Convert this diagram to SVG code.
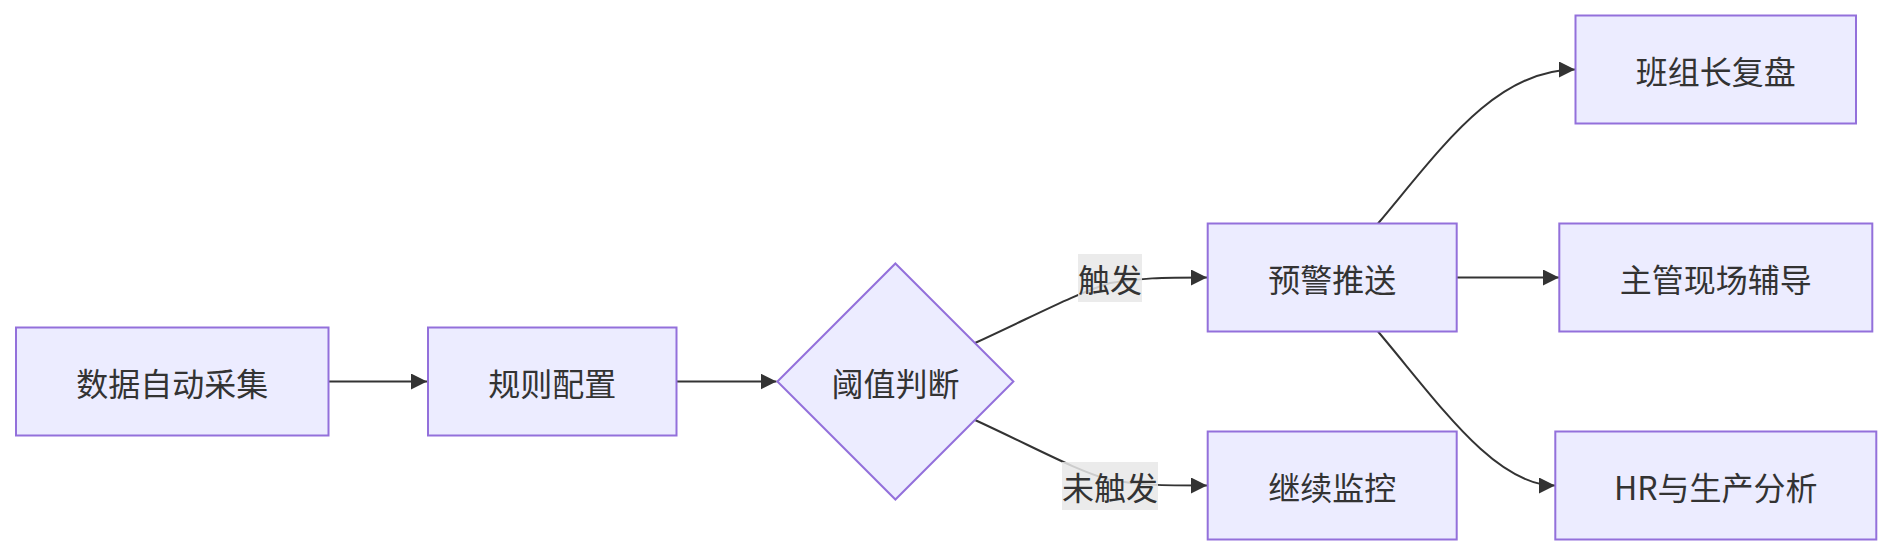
<svg xmlns="http://www.w3.org/2000/svg" width="1891" height="556" viewBox="0 0 1891 556">
<style>
.node rect, .node polygon { fill: #ECECFF; stroke: #9370DB; stroke-width: 2; }
.node text { font-family: "Noto Sans CJK SC", "Noto Sans", sans-serif; font-size: 32px; fill: #333; text-anchor: middle; dominant-baseline: central; }
.edge { fill: none; stroke: #333; stroke-width: 2; }
.lbl rect { fill: #e8e8e8; opacity: 0.85; }
.lbl text { font-family: "Noto Sans CJK SC", "Noto Sans", sans-serif; font-size: 32px; fill: #333; text-anchor: middle; dominant-baseline: central; }
</style>
<defs>
<marker id="arrow" markerUnits="userSpaceOnUse" markerWidth="16" markerHeight="16" viewBox="0 0 10 10" refX="10" refY="5" orient="auto">
<path d="M0,0 L10,5 L0,10 z" fill="#333"/>
</marker>
</defs>
<rect width="1891" height="556" fill="#ffffff"/>
<g id="connectors">
<path class="edge" d="M328.5,381.5 L427,381.5" marker-end="url(#arrow)"/>
<path class="edge" d="M676.5,381.5 L776.5,381.5" marker-end="url(#arrow)"/>
<path class="edge" d="M975,343 C1040,313 1075,294 1110,283 C1140,278 1160,277.5 1207,277.5" marker-end="url(#arrow)"/>
<path class="edge" d="M975,420 C1040,450 1075,470 1110,480 C1140,485 1160,485.5 1207,485.5" marker-end="url(#arrow)"/>
<path class="edge" d="M1378,223.5 C1440,150 1495,69.5 1575,69.5" marker-end="url(#arrow)"/>
<path class="edge" d="M1456.5,277.5 L1559,277.5" marker-end="url(#arrow)"/>
<path class="edge" d="M1378,331.5 C1440,405 1495,485.5 1555,485.5" marker-end="url(#arrow)"/>
<g class="lbl" id="label-trigger">
<rect x="1078" y="254" width="64" height="48"/>
<text x="1110" y="278">触发</text>
</g>
<g class="lbl" id="label-notrigger">
<rect x="1062" y="462" width="96" height="48"/>
<text x="1110" y="486">未触发</text>
</g>
</g>
<g class="node" id="node-collect">
<rect x="16" y="327.5" width="312.5" height="108"/>
<text x="172.25" y="381.5">数据自动采集</text>
</g>
<g class="node" id="node-rules">
<rect x="428" y="327.5" width="248.5" height="108"/>
<text x="552.25" y="381.5">规则配置</text>
</g>
<g class="node" id="node-judge">
<polygon points="895.4,263.5 1013.4,381.5 895.4,499.5 777.4,381.5"/>
<text x="895.4" y="381.5">阈值判断</text>
</g>
<g class="node" id="node-push">
<rect x="1207.7" y="223.5" width="249" height="108"/>
<text x="1332.2" y="277.5">预警推送</text>
</g>
<g class="node" id="node-monitor">
<rect x="1207.7" y="431.5" width="249" height="108"/>
<text x="1332.2" y="485.5">继续监控</text>
</g>
<g class="node" id="node-review">
<rect x="1575.5" y="15.5" width="280.5" height="108"/>
<text x="1715.75" y="69.5">班组长复盘</text>
</g>
<g class="node" id="node-coach">
<rect x="1559.3" y="223.5" width="313" height="108"/>
<text x="1715.8" y="277.5">主管现场辅导</text>
</g>
<g class="node" id="node-hr">
<rect x="1555.3" y="431.5" width="321" height="108"/>
<text x="1715.8" y="485.5">HR与生产分析</text>
</g>
</svg>
